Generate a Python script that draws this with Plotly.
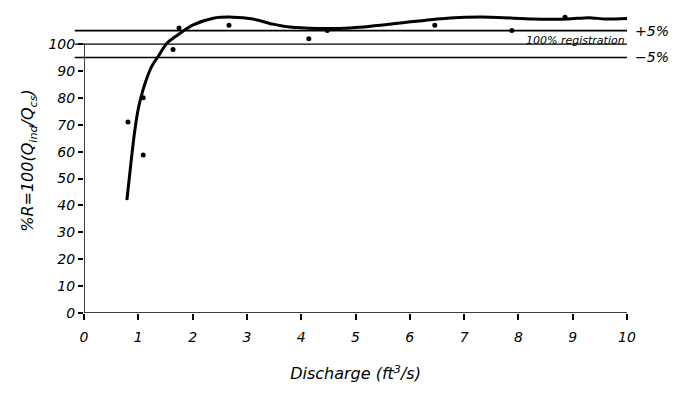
import plotly.graph_objects as go

# Observed data points
pt_x = [0.81, 1.09, 1.09, 1.64, 1.75, 2.67, 4.14, 4.48, 6.46, 7.88, 8.86]
pt_y = [71, 80, 58.7, 98, 106, 107, 102, 105, 107, 105, 110]

# Fitted curve
curve_x = [0.79, 0.86, 0.93, 1.0, 1.08, 1.16, 1.25, 1.36, 1.53, 1.77, 2.0, 2.38, 2.75,
           3.11, 3.48, 3.79, 4.3, 4.9, 5.82, 6.74, 7.48, 8.27, 8.9, 9.3, 9.6, 10.0]
curve_y = [42, 55, 67, 76, 82.5, 87.5, 91.8, 95.2, 100.4, 104, 107, 109.6, 110,
           109.3, 107.4, 106.3, 105.8, 106, 107.8, 109.7, 110, 109.3, 109.3, 109.8, 109.3, 109.5]

ref_levels = [105, 100, 95]
ref_labels = ["+5%", "", "\u22125%"]

x_ticks = list(range(0, 11))
y_ticks = list(range(0, 101, 10))

FONT = "DejaVu Sans"

fig = go.Figure()
fig.add_trace(go.Scatter(x=curve_x, y=curve_y, mode="lines",
                         line=dict(color="black", width=3, shape="spline", smoothing=0.8),
                         hoverinfo="skip", showlegend=False))
fig.add_trace(go.Scatter(x=pt_x, y=pt_y, mode="markers",
                         marker=dict(color="black", size=5), showlegend=False))

for lv, lab in zip(ref_levels, ref_labels):
    fig.add_shape(type="line", xref="paper", yref="y", x0=-0.017, x1=1.0, y0=lv, y1=lv,
                  line=dict(color="black", width=1.6 if lv != 100 else 1.2))
    if lab:
        fig.add_annotation(x=1.0, xref="paper", y=lv, yref="y", text=lab, showarrow=False,
                           xanchor="left", xshift=6,
                           font=dict(family=FONT, size=14, color="black", style="italic"))
fig.add_annotation(x=10, y=105, text="100% registration", showarrow=False,
                   xanchor="right", yanchor="top", yshift=-1,
                   font=dict(family=FONT, size=11, color="black", style="italic"))

# axis lines
fig.add_shape(type="line", xref="x", yref="y", x0=0, x1=0, y0=0, y1=100,
              line=dict(color="black", width=1.5))
fig.add_shape(type="line", xref="x", yref="y", x0=0, x1=10, y0=0, y1=0,
              line=dict(color="black", width=1.5))

fig.update_xaxes(range=[0, 10], tickvals=x_ticks, ticks="outside", ticklen=6, tickwidth=1.5,
                 tickcolor="black", showgrid=False, zeroline=False, showline=False,
                 automargin=False, ticklabelstandoff=5,
                 tickfont=dict(family=FONT, size=14, color="black", style="italic"),
                 title=dict(text="Discharge (ft<sup>3</sup>/s)", standoff=24,
                            font=dict(family=FONT, size=16, color="black", style="italic")))
fig.update_yaxes(range=[0, 113.4], tickvals=y_ticks, ticks="outside", ticklen=5, tickwidth=1.5,
                 tickcolor="black", showgrid=False, zeroline=False, showline=False,
                 automargin=False,
                 tickfont=dict(family=FONT, size=14, color="black", style="italic"),
                 title=dict(text="%R=100(Q<sub>ind</sub>/Q<sub>cs</sub>)", standoff=10,
                            font=dict(family=FONT, size=16, color="black", style="italic")))

fig.update_layout(width=689, height=389, margin=dict(l=76, r=70, t=0, b=84),
                  plot_bgcolor="white", paper_bgcolor="white", showlegend=False)

fig.write_html("out.html")
